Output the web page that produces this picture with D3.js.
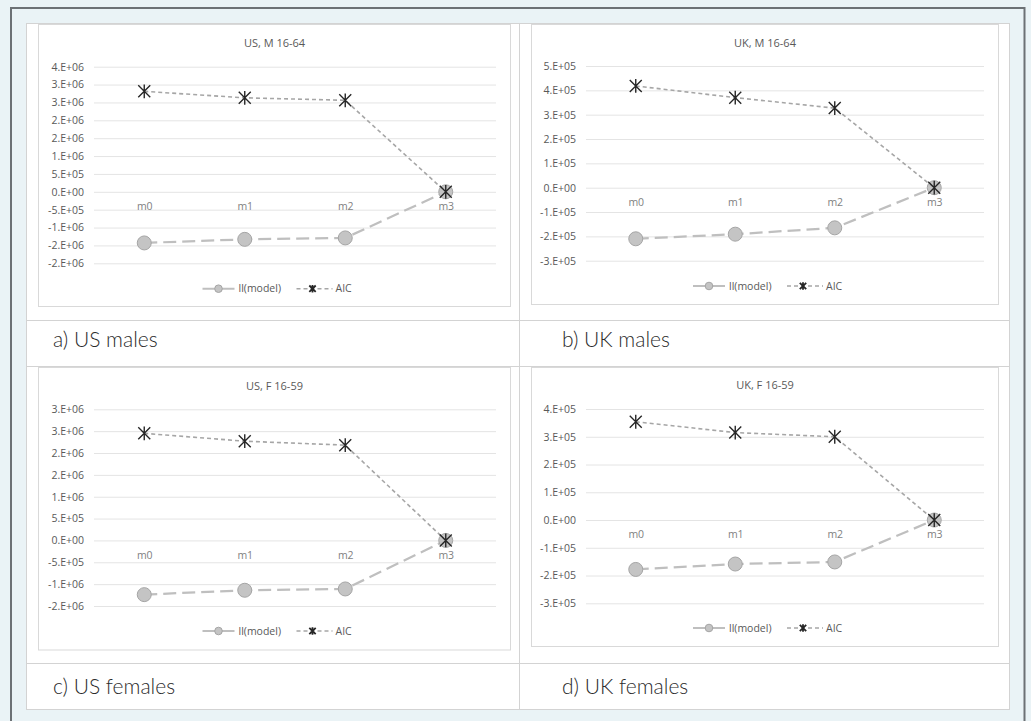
<!DOCTYPE html>
<html>
<head>
<meta charset="utf-8">
<script src="https://cdn.jsdelivr.net/npm/d3@7/dist/d3.min.js"></script>
<style>
  html, body { margin: 0; padding: 0; background: #eaf3f6; }
  svg { display: block; }
  .tick text { font-family: "Open Sans", "Noto Sans", sans-serif; }
</style>
</head>
<body>
<svg id="fig" width="1031" height="721"></svg>
<script>
// Model comparison: log-likelihood and AIC relative to model m3
const models = ["m0", "m1", "m2", "m3"];

const usMaleLL  = [-1.43e6, -1.33e6, -1.29e6, 0];
const usMaleAIC = [2.81e6, 2.63e6, 2.56e6, 0];
const usMaleTicks = [3.5e6, 3.0e6, 2.5e6, 2.0e6, 1.5e6, 1.0e6, 5e5, 0, -5e5, -1.0e6, -1.5e6, -2.0e6];
const usMaleTickLabels = ["4.E+06", "3.E+06", "3.E+06", "2.E+06", "2.E+06", "1.E+06", "5.E+05", "0.E+00", "-5.E+05", "-1.E+06", "-2.E+06", "-2.E+06"];

const ukMaleLL  = [-2.10e5, -1.91e5, -1.65e5, 0];
const ukMaleAIC = [4.18e5, 3.70e5, 3.27e5, 0];
const ukMaleTicks = [5e5, 4e5, 3e5, 2e5, 1e5, 0, -1e5, -2e5, -3e5];
const ukMaleTickLabels = ["5.E+05", "4.E+05", "3.E+05", "2.E+05", "1.E+05", "0.E+00", "-1.E+05", "-2.E+05", "-3.E+05"];

const usFemaleLL  = [-1.24e6, -1.14e6, -1.11e6, 0];
const usFemaleAIC = [2.45e6, 2.27e6, 2.18e6, 0];
const usFemaleTicks = [3.0e6, 2.5e6, 2.0e6, 1.5e6, 1.0e6, 5e5, 0, -5e5, -1.0e6, -1.5e6];
const usFemaleTickLabels = ["3.E+06", "3.E+06", "2.E+06", "2.E+06", "1.E+06", "5.E+05", "0.E+00", "-5.E+05", "-1.E+06", "-2.E+06"];

const ukFemaleLL  = [-1.78e5, -1.585e5, -1.51e5, 0];
const ukFemaleAIC = [3.54e5, 3.15e5, 3.00e5, 0];
const ukFemaleTicks = [4e5, 3e5, 2e5, 1e5, 0, -1e5, -2e5, -3e5];
const ukFemaleTickLabels = ["4.E+05", "3.E+05", "2.E+05", "1.E+05", "0.E+00", "-1.E+05", "-2.E+05", "-3.E+05"];

const titles   = ["US, M 16-64", "UK, M 16-64", "US, F 16-59", "UK, F 16-59"];
const captions = ["a) US males", "b) UK males", "c) US females", "d) UK females"];
const seriesNames = ["ll(model)", "AIC"];

const svg = d3.select("#fig");

// Frame around the figure
svg.append("rect").attr("width", 1031).attr("height", 721).attr("fill", "#eaf3f6");
svg.append("path")
  .attr("d", "M11,721 V8 H1024.5 V721")
  .attr("fill", "none").attr("stroke", "#6c7175").attr("stroke-width", 2);

// Table holding the four panels and their captions
const table = svg.append("g");
table.append("rect").attr("x", 26.5).attr("y", 23.5).attr("width", 983).attr("height", 686)
  .attr("fill", "#ffffff").attr("stroke", "#d3d3d3").attr("stroke-width", 1);
[[26.5, 1009.5, 320.5], [26.5, 1009.5, 366.5], [26.5, 1009.5, 663.5]].forEach(([x1, x2, y]) =>
  table.append("line").attr("x1", x1).attr("x2", x2).attr("y1", y).attr("y2", y)
    .attr("stroke", "#d3d3d3"));
table.append("line").attr("x1", 519.5).attr("x2", 519.5).attr("y1", 23.5).attr("y2", 709.5)
  .attr("stroke", "#d3d3d3");

const captionPos = [[53, 347], [562, 347], [53, 694], [562, 694]];
captions.forEach((c, i) => {
  table.append("text").attr("x", captionPos[i][0]).attr("y", captionPos[i][1])
    .attr("font-family", "Lato, 'Open Sans', sans-serif").attr("font-weight", 300)
    .attr("font-size", 21).attr("fill", "#2b2b2b").text(c);
});

const panels = [
  { ll: usMaleLL, aic: usMaleAIC, ticks: usMaleTicks, labels: usMaleTickLabels,
    box: [38.5, 24.5, 472, 282], plot: [94, 496, 66.7, 263.3], titleY: 43, legendY: 288.7 },
  { ll: ukMaleLL, aic: ukMaleAIC, ticks: ukMaleTicks, labels: ukMaleTickLabels,
    box: [531.5, 24.5, 467, 280], plot: [586, 984, 66, 260.7], titleY: 43, legendY: 286 },
  { ll: usFemaleLL, aic: usFemaleAIC, ticks: usFemaleTicks, labels: usFemaleTickLabels,
    box: [38.5, 367.5, 472, 282.5], plot: [94, 496, 409.3, 606], titleY: 385.7, legendY: 631 },
  { ll: ukFemaleLL, aic: ukFemaleAIC, ticks: ukFemaleTicks, labels: ukFemaleTickLabels,
    box: [531.5, 367.5, 467, 279], plot: [586, 984, 409, 603.3], titleY: 385, legendY: 628 }
];

const textGrey = "#595959";
const llStroke = "#bfbfbf";
const aicStroke = "#a6a6a6";

function star(g, cx, cy, s, w) {
  const p = g.append("path")
    .attr("d", `M${cx - s},${cy - s}L${cx + s},${cy + s}M${cx - s},${cy + s}L${cx + s},${cy - s}M${cx},${cy - s * 1.15}L${cx},${cy + s * 1.15}`)
    .attr("stroke", "#262626").attr("stroke-width", w).attr("fill", "none");
  return p;
}

panels.forEach((p, i) => {
  const g = svg.append("g");
  const [bx, by, bw, bh] = p.box;
  const [left, right, top, bottom] = p.plot;

  g.append("rect").attr("x", bx).attr("y", by).attr("width", bw).attr("height", bh)
    .attr("fill", "#ffffff").attr("stroke", "#d9d9d9").attr("stroke-width", 1);

  const x = d3.scalePoint().domain(models).range([left, right]).padding(0.5);
  const y = d3.scaleLinear()
    .domain([d3.min(p.ticks), d3.max(p.ticks)])
    .range([bottom, top]);

  // Value axis with horizontal gridlines
  const yAxis = d3.axisLeft(y)
    .tickValues(p.ticks)
    .tickSize(-(right - left))
    .tickPadding(10)
    .tickFormat((d, k) => p.labels[k]);
  const ya = g.append("g").attr("transform", `translate(${left},0)`).call(yAxis);
  ya.select(".domain").remove();
  ya.selectAll(".tick line").attr("stroke", "#e4e4e4").attr("stroke-width", 1);
  ya.selectAll(".tick text").attr("fill", textGrey).attr("font-size", 10.5);

  // Category labels sit just under the zero line
  const xAxis = d3.axisBottom(x).tickSize(0).tickPadding(11);
  const xa = g.append("g").attr("transform", `translate(0,${y(0)})`).call(xAxis);
  xa.select(".domain").remove();
  xa.selectAll(".tick text").attr("fill", "#7f7f7f").attr("font-size", 10.5);

  // Title
  const cx = bx + bw / 2;
  g.append("text").attr("x", cx).attr("y", p.titleY).attr("dy", "0.35em")
    .attr("text-anchor", "middle").attr("font-family", "'Open Sans', 'Noto Sans', sans-serif")
    .attr("font-size", 11).attr("fill", textGrey).text(titles[i]);

  const line = d3.line().x((d, k) => x(models[k])).y(d => y(d));

  // ll(model) series
  g.append("path").datum(p.ll).attr("d", line)
    .attr("fill", "none").attr("stroke", llStroke).attr("stroke-width", 2.25)
    .attr("stroke-dasharray", "13,6");
  g.selectAll(".llpt").data(p.ll).enter().append("circle")
    .attr("cx", (d, k) => x(models[k])).attr("cy", d => y(d)).attr("r", 7)
    .attr("fill", "#c4c4c4").attr("stroke", "#a5a5a5").attr("stroke-width", 1);

  // AIC series
  g.append("path").datum(p.aic).attr("d", line)
    .attr("fill", "none").attr("stroke", aicStroke).attr("stroke-width", 1.6)
    .attr("stroke-dasharray", "4,3");
  p.aic.forEach((d, k) => star(g, x(models[k]), y(d), 6, 1.4));

  // Legend
  const lx = cx - 72, ly = p.legendY;
  g.append("line").attr("x1", lx).attr("x2", lx + 32).attr("y1", ly).attr("y2", ly)
    .attr("stroke", llStroke).attr("stroke-width", 2);
  g.append("circle").attr("cx", lx + 16).attr("cy", ly).attr("r", 3.8)
    .attr("fill", "#c4c4c4").attr("stroke", "#a5a5a5");
  g.append("text").attr("x", lx + 36).attr("y", ly).attr("dy", "0.35em")
    .attr("font-family", "'Open Sans', 'Noto Sans', sans-serif").attr("font-size", 10.5)
    .attr("fill", textGrey).text(seriesNames[0]);
  g.append("line").attr("x1", lx + 94).attr("x2", lx + 130).attr("y1", ly).attr("y2", ly)
    .attr("stroke", aicStroke).attr("stroke-width", 1.6).attr("stroke-dasharray", "4,3");
  star(g, lx + 110, ly, 3.2, 1.8);
  g.append("text").attr("x", lx + 133).attr("y", ly).attr("dy", "0.35em")
    .attr("font-family", "'Open Sans', 'Noto Sans', sans-serif").attr("font-size", 10.5)
    .attr("fill", textGrey).text(seriesNames[1]);
});
</script>
</body>
</html>
